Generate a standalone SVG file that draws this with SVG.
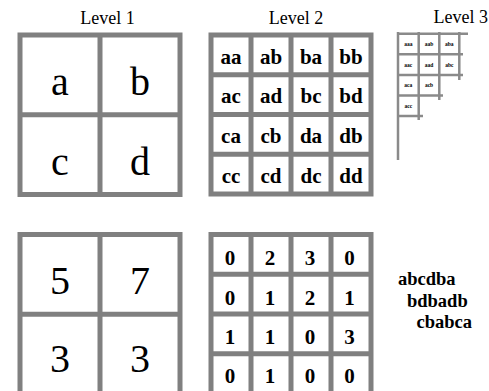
<svg xmlns="http://www.w3.org/2000/svg" width="489" height="391" viewBox="0 0 489 391">
<style>
text{font-family:'Liberation Serif','Times New Roman',serif}
.title{font-size:18px;fill:#000}
.big{font-size:40px;fill:#000;text-anchor:middle}
.mid{font-size:21px;font-weight:bold;fill:#000;text-anchor:middle}
.tiny{font-size:5.5px;font-weight:bold;fill:#000;text-anchor:middle}
.seq{font-size:18.5px;font-weight:bold;fill:#000}
.box{fill:#fff;stroke:#808080;stroke-width:5}
.ln{stroke:#808080;stroke-width:5}
.thin{stroke:#8a8a8a;stroke-width:2.5}
</style>
<rect width="489" height="391" fill="#fff"/>

<g id="titles">
<text class="title" x="107.5" y="24" text-anchor="middle">Level 1</text>
<text class="title" x="296" y="24" text-anchor="middle">Level 2</text>
<text class="title" x="488" y="23" text-anchor="end">Level 3</text>
</g>

<g id="level1-letters">
<rect class="box" x="20" y="35" width="160" height="159.5"/>
<line class="ln" x1="100" y1="35" x2="100" y2="194.5"/>
<line class="ln" x1="20" y1="114.75" x2="180" y2="114.75"/>
<text class="big" x="60" y="95">a</text>
<text class="big" x="140" y="95">b</text>
<text class="big" x="60" y="175">c</text>
<text class="big" x="140" y="175">d</text>
</g>

<g id="level2-letters">
<rect class="box" x="211" y="35" width="160" height="159"/>
<line class="ln" x1="251" y1="35" x2="251" y2="194"/>
<line class="ln" x1="291" y1="35" x2="291" y2="194"/>
<line class="ln" x1="331" y1="35" x2="331" y2="194"/>
<line class="ln" x1="211" y1="74.75" x2="371" y2="74.75"/>
<line class="ln" x1="211" y1="114.5" x2="371" y2="114.5"/>
<line class="ln" x1="211" y1="154.25" x2="371" y2="154.25"/>
<text class="mid" x="231" y="63.5">aa</text>
<text class="mid" x="271" y="63.5">ab</text>
<text class="mid" x="311" y="63.5">ba</text>
<text class="mid" x="351" y="63.5">bb</text>
<text class="mid" x="231" y="103.2">ac</text>
<text class="mid" x="271" y="103.2">ad</text>
<text class="mid" x="311" y="103.2">bc</text>
<text class="mid" x="351" y="103.2">bd</text>
<text class="mid" x="231" y="142.9">ca</text>
<text class="mid" x="271" y="142.9">cb</text>
<text class="mid" x="311" y="142.9">da</text>
<text class="mid" x="351" y="142.9">db</text>
<text class="mid" x="231" y="182.6">cc</text>
<text class="mid" x="271" y="182.6">cd</text>
<text class="mid" x="311" y="182.6">dc</text>
<text class="mid" x="351" y="182.6">dd</text>
</g>

<g id="level3-letters">
<line class="thin" x1="397" y1="33.7" x2="468" y2="33.7"/>
<line class="thin" x1="397" y1="54.3" x2="463" y2="54.3"/>
<line class="thin" x1="397" y1="75" x2="463" y2="75"/>
<line class="thin" x1="397" y1="95.5" x2="443" y2="95.5"/>
<line class="thin" x1="397" y1="116" x2="423" y2="116"/>
<line class="thin" x1="398" y1="32" x2="398" y2="160"/>
<line class="thin" x1="418.7" y1="32" x2="418.7" y2="120"/>
<line class="thin" x1="439.3" y1="32" x2="439.3" y2="100"/>
<line class="thin" x1="459.3" y1="32" x2="459.3" y2="80"/>
<text class="tiny" x="408.3" y="46">aaa</text>
<text class="tiny" x="429" y="46">aab</text>
<text class="tiny" x="449.3" y="46">aba</text>
<text class="tiny" x="408.3" y="66.5">aac</text>
<text class="tiny" x="429" y="66.5">aad</text>
<text class="tiny" x="449.3" y="66.5">abc</text>
<text class="tiny" x="408.3" y="87">aca</text>
<text class="tiny" x="429" y="87">acb</text>
<text class="tiny" x="408.3" y="107.5">acc</text>
</g>

<g id="level1-counts">
<rect class="box" x="20" y="234.5" width="160" height="159.5"/>
<line class="ln" x1="100" y1="234.5" x2="100" y2="394"/>
<line class="ln" x1="20" y1="314.25" x2="180" y2="314.25"/>
<text class="big" x="60" y="294">5</text>
<text class="big" x="140" y="294">7</text>
<text class="big" x="60" y="372">3</text>
<text class="big" x="140" y="372">3</text>
</g>

<g id="level2-counts">
<rect class="box" x="211" y="234.5" width="160" height="159"/>
<line class="ln" x1="251" y1="234.5" x2="251" y2="393.5"/>
<line class="ln" x1="291" y1="234.5" x2="291" y2="393.5"/>
<line class="ln" x1="331" y1="234.5" x2="331" y2="393.5"/>
<line class="ln" x1="211" y1="274.25" x2="371" y2="274.25"/>
<line class="ln" x1="211" y1="314" x2="371" y2="314"/>
<line class="ln" x1="211" y1="353.75" x2="371" y2="353.75"/>
<text class="mid" x="230" y="265">0</text>
<text class="mid" x="270" y="265">2</text>
<text class="mid" x="310" y="265">3</text>
<text class="mid" x="349.5" y="265">0</text>
<text class="mid" x="230" y="304.5">0</text>
<text class="mid" x="270" y="304.5">1</text>
<text class="mid" x="310" y="304.5">2</text>
<text class="mid" x="349.5" y="304.5">1</text>
<text class="mid" x="230" y="344">1</text>
<text class="mid" x="270" y="344">1</text>
<text class="mid" x="310" y="344">0</text>
<text class="mid" x="349.5" y="344">3</text>
<text class="mid" x="230" y="383">0</text>
<text class="mid" x="270" y="383">1</text>
<text class="mid" x="310" y="383">0</text>
<text class="mid" x="349.5" y="383">0</text>
</g>

<g id="sequences">
<text class="seq" x="398" y="285">abcdba</text>
<text class="seq" x="407" y="306.5">bdbadb</text>
<text class="seq" x="416.5" y="328">cbabca</text>
</g>
</svg>
